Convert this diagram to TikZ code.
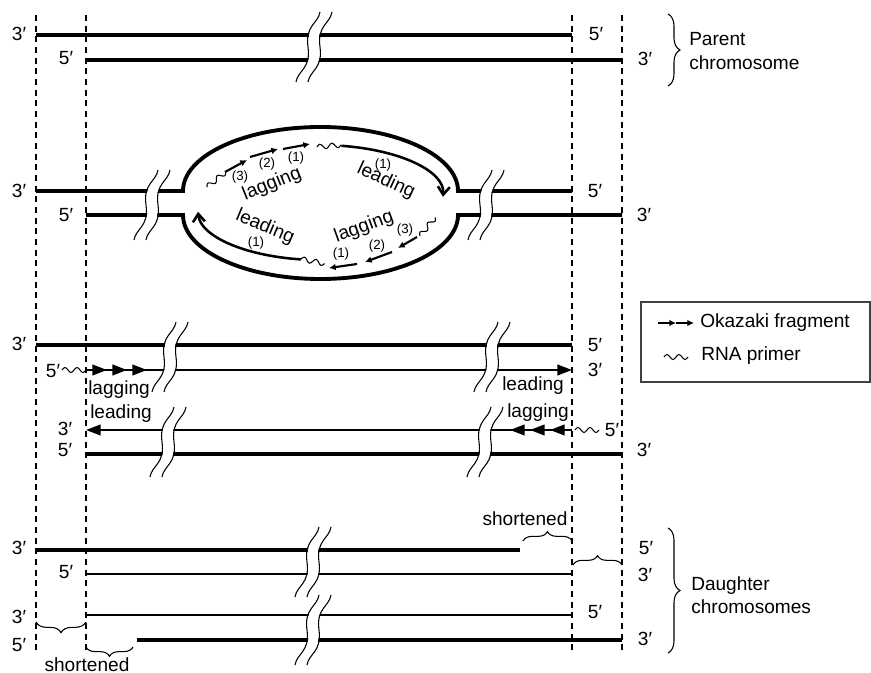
\documentclass[tikz,border=0pt]{standalone}
\usepackage{fontspec}
\setmainfont{Liberation Sans}
\usetikzlibrary{arrows.meta, decorations.pathreplacing}

\tikzset{
    parental/.style={line width=2.9pt},
    daughter/.style={line width=1.5pt},
    guide/.style={line width=0.9pt, dash pattern=on 4.5pt off 3.5pt},
    lbl/.style={font=\fontsize{14.3}{17.5}\selectfont, inner sep=0pt},
    num/.style={font=\fontsize{10}{12}\selectfont, inner sep=0pt},
    lead/.style={line width=1.9pt, -{Straight Barb[length=6pt,width=9pt]}},
    frag/.style={line width=1.6pt, -{Latex[length=5pt,width=5pt]}},
    okaz/.style={daughter, -{Triangle[length=11pt,width=8pt]}},
    brc/.style={decorate, decoration={brace, amplitude=#1}, line width=0.8pt},
    pics/primer/.style={code={
        \draw[line width=0.8pt] (0,0) sin (3,-2.5) cos (6,0) sin (9,2.5) cos (12,0)
            sin (15,-2.5) cos (18,0) sin (21,2.5) cos (24,0);
    }},
}

\begin{document}
\begin{tikzpicture}[x=0.75pt, y=-0.75pt]
    \useasboundingbox (0,0) rectangle (871,673);

    % Guide lines
    \foreach \gx in {36,86,572,622}
        \draw[guide] (\gx,15) -- (\gx,655);

    % Parent chromosome
    \draw[parental] (36,35) -- (572,35);
    \draw[parental] (86,60) -- (622,60);

    % Replication bubble
    \draw[parental] (36,191) -- (183,191)
        arc[start angle=180, end angle=360, x radius=137.5, y radius=64] -- (572,191);
    \draw[parental] (86,215) -- (183,215)
        arc[start angle=180, end angle=0, x radius=137.5, y radius=64] -- (622,215);
    \draw[lead] (341.4,145.8) arc[start angle=280, end angle=362, x radius=123, y radius=50];
    \draw[lead] (300.9,259.4) arc[start angle=99, end angle=178, x radius=122, y radius=50];
    \draw[frag] (225,172) -- (247,160);
    \draw[frag] (250,157) -- (278,149);
    \draw[frag] (283,149) -- (310,144);
    \draw[frag] (417,237) -- (398,248);
    \draw[frag] (392,252) -- (365,262);
    \draw[frag] (357,264) -- (329,268);
    \pic[rotate=39] at (207,187) {primer};
    \pic[rotate=5] at (317,147) {primer};
    \pic[rotate=-11] at (301,259) {primer};
    \pic[rotate=51] at (420,236) {primer};

    % Both forks finished
    \draw[parental] (36,345) -- (572,345);
    \draw[okaz] (86,370) -- (572,370);
    \foreach \t in {107,127,147}
        \draw[okaz] ({\t-15},370) -- (\t,370);
    \pic at (62,370) {primer};
    \draw[okaz] (572,430) -- (86,430);
    \foreach \t in {510,530,550}
        \draw[okaz] ({\t+15},430) -- (\t,430);
    \pic at (575,430) {primer};
    \draw[parental] (86,454) -- (622,454);

    % Daughter chromosomes
    \draw[parental] (36,550) -- (520,550);
    \draw[daughter] (86,574) -- (572,574);
    \draw[daughter] (86,615) -- (572,615);
    \draw[parental] (137,640) -- (622,640);

    % Breaks
    \foreach \bx/\by in {314/82, 152/240, 486/240, 170/392, 492/392, 168/477, 485/477, 313/597, 313/665} {
        \begin{scope}[shift={(\bx,\by)}]
            \draw[white, line width=7.5pt] (-12,0) .. controls +(2,-12) and +(3,22) .. ++(12,-35)
                .. controls +(-3,-22) and +(-2,12) .. ++(12,-35);
            \foreach \dx in {-18,-6}
                \draw[line width=0.8pt] (\dx,0) .. controls +(2,-12) and +(3,22) .. ++(12,-35)
                    .. controls +(-3,-22) and +(-2,12) .. ++(12,-35);
        \end{scope}
    }

    % End labels
    \node[lbl] (t3l) at (19,34) {3′};
    \node[lbl] (t5l) at (66,58) {5′};
    \node[lbl] (t5r) at (596,34) {5′};
    \node[lbl] (t3r) at (645,59) {3′};
    \node[lbl] (b3l) at (19,191) {3′};
    \node[lbl] (b5l) at (66,215) {5′};
    \node[lbl] (b5r) at (595,191) {5′};
    \node[lbl] (b3r) at (644,215) {3′};
    \node[lbl] (m3l) at (19,344) {3′};
    \node[lbl] (m5l) at (53,371) {5′};
    \node[lbl] (m5r) at (595,345) {5′};
    \node[lbl] (m3r) at (595,370) {3′};
    \node[lbl] (n3l) at (65,429) {3′};
    \node[lbl] (n5l) at (65,450) {5′};
    \node[lbl] (n5r) at (612,430) {5′};
    \node[lbl] (n3r) at (644,450) {3′};
    \node[lbl] (d3l) at (19,548) {3′};
    \node[lbl] (d5l) at (66,572) {5′};
    \node[lbl] (d5r) at (646,548) {5′};
    \node[lbl] (d3r) at (645,575) {3′};
    \node[lbl] (e3l) at (19,617) {3′};
    \node[lbl] (e5l) at (19,645) {5′};
    \node[lbl] (e5r) at (595,612) {5′};
    \node[lbl] (e3r) at (645,639) {3′};

    % Strand labels
    \node[lbl, rotate=22] (lagT) at (272,184) {lagging};
    \node[lbl, rotate=-25] (leadT) at (386,181) {leading};
    \node[lbl, rotate=-23] (leadB) at (265,227) {leading};
    \node[lbl, rotate=20] (lagB) at (364,227) {lagging};
    \node[num] (lagT3) at (240,177) {(3)};
    \node[num] (lagT2) at (267,164) {(2)};
    \node[num] (lagT1) at (296,158) {(1)};
    \node[num] (leadT1) at (383,165) {(1)};
    \node[num] (leadB1) at (256,243) {(1)};
    \node[num] (lagB3) at (405,230) {(3)};
    \node[num] (lagB2) at (377,246) {(2)};
    \node[num] (lagB1) at (341,254) {(1)};
    \node[lbl] (mlag) at (119,390) {lagging};
    \node[lbl] (mlead) at (533,386) {leading};
    \node[lbl] (nlead) at (121,414) {leading};
    \node[lbl] (nlag) at (538,413) {lagging};

    % Shortened ends
    \node[lbl] (shortT) at (525,519) {shortened};
    \node[lbl] (shortB) at (87,665) {shortened};
    \draw[brc=7pt] (523,541) -- (572,541);
    \draw[brc=7pt] (573,565) -- (622,565);
    \draw[brc=8pt] (86,622) -- (36,622);
    \draw[brc=7pt] (133,647) -- (86,647);

    % Chromosome braces
    \draw[brc=9pt] (668,14) -- (668,86);
    \node[lbl, align=left, anchor=west] (parent) at (689,51) {Parent\\chromosome};
    \draw[brc=9pt] (668,528) -- (668,653);
    \node[lbl, align=left, anchor=west] (daught) at (691,595) {Daughter\\chromosomes};

    % Legend
    \draw[line width=1.1pt, black!75] (641,302) rectangle (870,382);
    \draw[frag] (658,323) -- (676,323);
    \draw[frag] (676,323) -- (694,323);
    \node[lbl, anchor=west] (okz) at (700,323) {Okazaki fragment};
    \pic at (664,357) {primer};
    \node[lbl, anchor=west] (rna) at (701,356) {RNA primer};
\end{tikzpicture}
\end{document}
